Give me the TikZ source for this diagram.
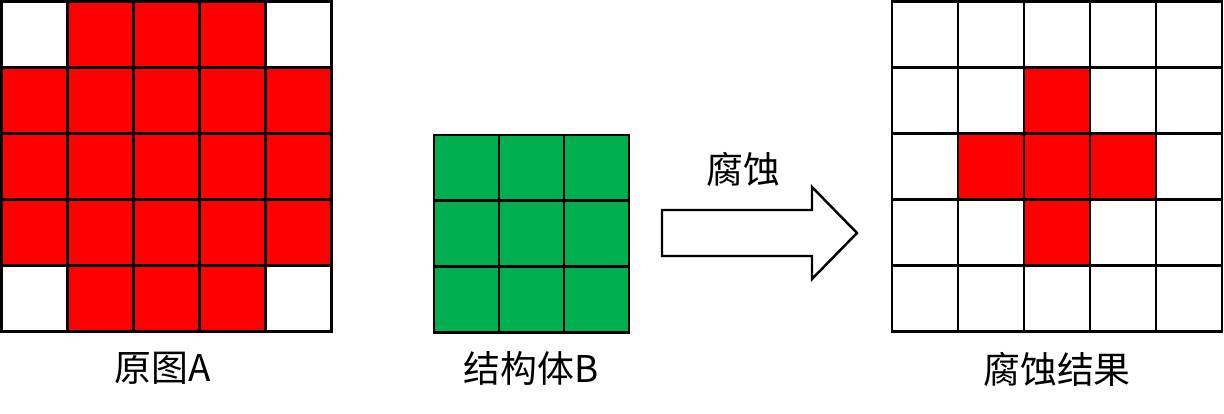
\documentclass[tikz,border=0pt]{standalone}
\usepackage{fontspec}
\newfontfamily\cjk{Noto Sans CJK SC}
\definecolor{cellred}{RGB}{255,0,0}
\definecolor{cellgreen}{RGB}{0,176,80}
\tikzset{
  cell/.style={draw=black,line width=1.6pt},
  lbl/.style={font=\cjk\fontsize{21}{24}\selectfont,inner sep=0pt}
}
\begin{document}
\begin{tikzpicture}[x=0.02cm,y=-0.02cm,line join=miter]
  \useasboundingbox (0,0) rectangle (1224,413);
  % original image A
  \fill[cellred] (1.5,1.5) rectangle (331.5,331.5);
  \foreach \i/\j in {0/0,4/0,0/4,4/4}
    \fill[white] (1.5+66*\i,1.5+66*\j) rectangle ++(66,66);
  \foreach \i in {0,...,4}
    \foreach \j in {0,...,4}
      \draw[cell] (1.5+66*\i,1.5+66*\j) rectangle ++(66,66);
  \node[lbl] (capA) at (163,368) {原图A};
  % structuring element B
  \foreach \i in {0,...,2}
    \foreach \j in {0,...,2}
      \draw[cell,fill=cellgreen] (434+65*\i,135+65.7*\j) rectangle ++(65,65.7);
  \node[lbl] (capB) at (531,368) {结构体B};
  % arrow
  \draw[line width=1.4pt] (662,210) -- (812,210) -- (812,187) -- (857,233)
    -- (812,279) -- (812,256) -- (662,256) -- cycle;
  \node[lbl] (op) at (743,169) {腐蚀};
  % result
  \foreach \i/\j in {2/1,1/2,2/2,3/2,2/3}
    \fill[cellred] (892+66*\i,1.5+66*\j) rectangle ++(66,66);
  \foreach \i in {0,...,4}
    \foreach \j in {0,...,4}
      \draw[cell] (892+66*\i,1.5+66*\j) rectangle ++(66,66);
  \node[lbl] (capR) at (1057,369) {腐蚀结果};
\end{tikzpicture}
\end{document}
